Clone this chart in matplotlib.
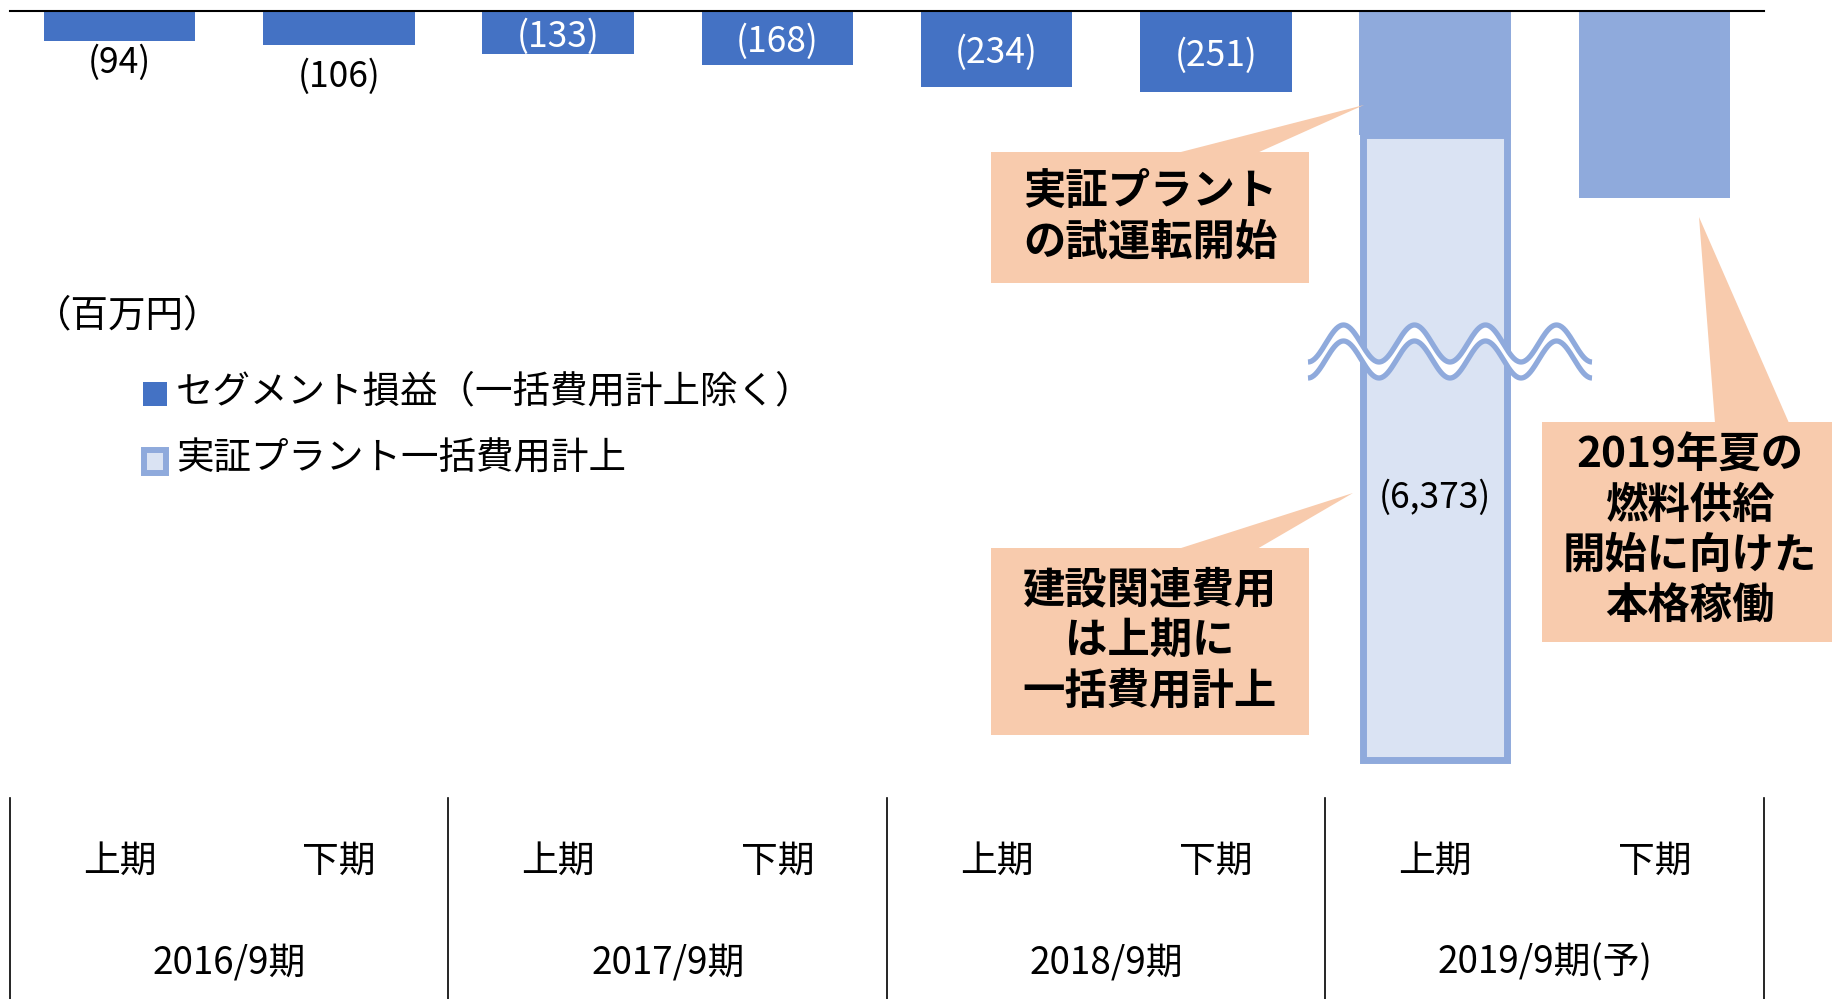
"""
Segment loss by half-year, with the lump-sum plant expense shown as a broken bar
"""

import matplotlib.pyplot as plt
import numpy as np
from matplotlib.patches import Polygon, Rectangle

plt.rcParams["font.family"] = ["Noto Sans CJK JP", "DejaVu Sans"]

W, H = 1833, 999

halves = ["上期", "下期"] * 4
years = ["2016/9期", "2017/9期", "2018/9期", "2019/9期(予)"]
segment_loss = [-94, -106, -133, -168, -234, -251, -385, -580]
is_forecast = [False, False, False, False, False, False, True, True]
show_label = [True, True, True, True, True, True, False, False]
lump_sum = [0, 0, 0, 0, 0, 0, -6373, 0]

# how much of the lump-sum bar is drawn before the axis break
BREAK_SHOWN = 1935

legend_labels = ["セグメント損益（一括費用計上除く）", "実証プラント一括費用計上"]
callouts = [
    "実証プラント\nの試運転開始",
    "建設関連費用\nは上期に\n一括費用計上",
    "2019年夏の\n燃料供給\n開始に向けた\n本格稼働",
]

DARK = "#4472C4"
MID = "#8FAADC"
LIGHT = "#DAE3F3"
PEACH = "#F8CBAD"


def fx(px):
    return px / W


def fy(py):
    return 1 - py / H


fig = plt.figure(figsize=(W / 100, H / 100), dpi=100)
ax = fig.add_axes([fx(10), fy(798), fx(1764) - fx(10), fy(11) - fy(798)])
ax.set_xlim(-0.5, 7.5)
ax.set_ylim(-787 / 0.323, 0)
ax.set_axis_off()

x = np.arange(len(halves))
colors = [MID if f else DARK for f in is_forecast]
ax.bar(x, segment_loss, width=0.69, color=colors, zorder=2)

for i, v in enumerate(lump_sum):
    if v == 0:
        continue
    shown = -min(abs(v), BREAK_SHOWN)
    ax.bar(x[i], shown, bottom=segment_loss[i], width=0.69 - 7 / 219.25,
           color=LIGHT, edgecolor=MID, linewidth=5, zorder=3)
    ax.text(x[i], segment_loss[i] + 0.58 * shown, "({:,})".format(-v),
            ha="center", va="center", fontsize=25.5, color="black", zorder=6)

# value labels: first two sit below the bars, the rest inside
outside_offset = {0: -21, 1: -32}
for i, v in enumerate(segment_loss):
    if not show_label[i]:
        continue
    txt = "({})".format(-v)
    if i in outside_offset:
        ax.annotate(txt, (x[i], v), xytext=(0, outside_offset[i]),
                    textcoords="offset pixels", ha="center", va="center",
                    fontsize=25.5, color="black")
    else:
        ax.annotate(txt, (x[i], v / 2), xytext=(0, -4),
                    textcoords="offset pixels", ha="center", va="center",
                    fontsize=25.5, color="white", zorder=5)

ax.axhline(0, color="black", lw=1.5, zorder=4, clip_on=False)

# table underneath
tr = ax.get_xaxis_transform()
tbl_bottom = -(999 - 798) / 787
for b in np.arange(-0.5, 8, 2):
    ax.plot([b, b], [0, tbl_bottom], color="black", lw=1.2,
            transform=tr, clip_on=False)
for i, h in enumerate(halves):
    ax.text(x[i], -(861 - 798) / 787, h, transform=tr, ha="center",
            va="center", fontsize=26.5)
for k, yr in enumerate(years):
    ax.text(2 * k + 0.5, -(963 - 798) / 787, yr, transform=tr, ha="center",
            va="center", fontsize=26.5)

# legend
fig.text(fx(128), fy(316), "（百万円）", ha="center", va="center", fontsize=27)
fig.add_artist(Rectangle((fx(143), fy(406)), 24 / W, 24 / H,
                         transform=fig.transFigure, facecolor=DARK, lw=0))
fig.add_artist(Rectangle((fx(144), fy(473)), 22 / W, 23 / H,
                         transform=fig.transFigure, facecolor=LIGHT,
                         edgecolor=MID, lw=4.3))
fig.text(fx(176), fy(392), legend_labels[0], ha="left", va="center", fontsize=27)
fig.text(fx(176), fy(459), legend_labels[1], ha="left", va="center", fontsize=27)

# break mark across the tall bar
wx = np.linspace(1308, 1592, 300)
upper = 343.5 + 18.5 * np.cos(2 * np.pi * (wx - 1308) / 71)
lower = upper + 16
band = np.column_stack([np.r_[wx, wx[::-1]], np.r_[upper, lower[::-1]]])
band_fig = np.column_stack([fx(band[:, 0]), fy(band[:, 1])])
fig.add_artist(Polygon(band_fig, closed=True, transform=fig.transFigure,
                       facecolor="white", lw=0, zorder=2))
for yy in (upper, lower):
    fig.add_artist(plt.Line2D(fx(wx), fy(yy), transform=fig.transFigure,
                              color=MID, lw=3.8, solid_capstyle="butt", zorder=3))

# callouts: box (x0, y0, x1, y1), pointer tip, pointer base, text centre
boxes = [
    ((991, 152, 1309, 283), (1364, 105), (1177, 1257, 152), (1150, 217)),
    ((991, 548, 1309, 735), (1353, 493), (1178, 1257, 548), (1150, 641)),
    ((1542, 422, 1833, 642), (1699, 217), (1715, 1789, 422), (1690, 531)),
]
for text, (box, tip, base, centre) in zip(callouts, boxes):
    x0, y0, x1, y1 = box
    fig.add_artist(Rectangle((fx(x0), fy(y1)), (x1 - x0) / W, (y1 - y0) / H,
                             transform=fig.transFigure, facecolor=PEACH,
                             lw=0, zorder=4))
    tri = [(fx(base[0]), fy(base[2] + 1)), (fx(tip[0]), fy(tip[1])),
           (fx(base[1]), fy(base[2] + 1))]
    fig.add_artist(Polygon(tri, closed=True, transform=fig.transFigure,
                           facecolor=PEACH, lw=0, zorder=4))
    fig.text(fx(centre[0]), fy(centre[1]), text, ha="center", va="center",
             fontsize=30.5, fontweight="bold", linespacing=1.25, zorder=5)

fig.savefig("out.png", dpi=100)
